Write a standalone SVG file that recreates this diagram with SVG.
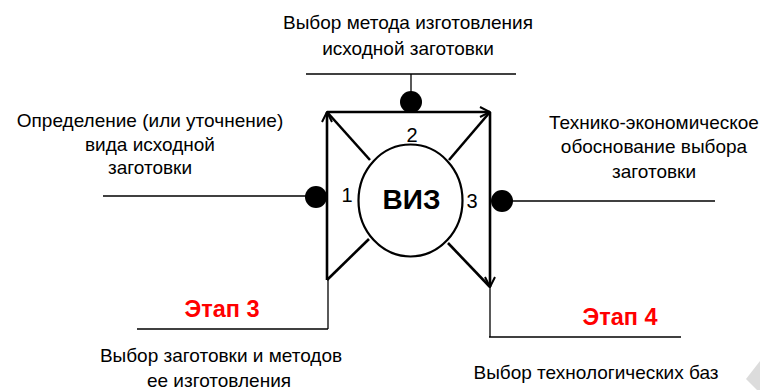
<svg xmlns="http://www.w3.org/2000/svg" width="760" height="390" viewBox="0 0 760 390">
<defs>
<style>
.t{font-family:"Liberation Sans",Arial,sans-serif;font-size:19px;fill:#000;text-anchor:middle}
.st{font-family:"Liberation Sans",Arial,sans-serif;font-size:23.5px;font-weight:bold;fill:#ff0000;text-anchor:middle}
.n{font-family:"Liberation Sans",Arial,sans-serif;font-size:20px;fill:#000;text-anchor:middle}
.thick{stroke:#000;stroke-width:2.6;fill:none}
.thin{stroke:#000;stroke-width:1.3;fill:none}
.dot{fill:#000}
</style>
<marker id="ah" viewBox="0 0 12 12" refX="11" refY="6" markerWidth="12" markerHeight="12" markerUnits="userSpaceOnUse" orient="auto">
<path d="M1,1 L11,6 L1,11" fill="none" stroke="#000" stroke-width="2"/>
</marker>
</defs>
<rect width="760" height="390" fill="#fff"/>
<g id="connectors">
<line class="thick" x1="327" y1="280" x2="327" y2="112" marker-end="url(#ah)"/>
<line class="thick" x1="327" y1="112" x2="490" y2="112" marker-end="url(#ah)"/>
<line class="thick" x1="490" y1="112" x2="490" y2="287" marker-end="url(#ah)"/>
<line class="thick" x1="327" y1="112" x2="370" y2="160"/>
<line class="thick" x1="490" y1="112" x2="449" y2="160"/>
<line class="thick" x1="327" y1="280" x2="369" y2="239"/>
<line class="thick" x1="448" y1="243" x2="490" y2="287"/>
<line class="thin" x1="306" y1="74" x2="516" y2="74"/>
<line class="thin" x1="411" y1="74" x2="411" y2="102" stroke="#555"/>
<line class="thin" x1="103" y1="196" x2="316" y2="196"/>
<line class="thin" x1="502" y1="201" x2="715" y2="201"/>
<line class="thin" x1="328" y1="280" x2="328" y2="329"/>
<line class="thin" x1="137" y1="329" x2="328" y2="329"/>
<line class="thin" x1="490" y1="287" x2="490" y2="337"/>
<line class="thin" x1="489" y1="337" x2="681" y2="337"/>
</g>
<g id="dots">
<circle class="dot" cx="411" cy="102" r="11"/>
<circle class="dot" cx="316" cy="197" r="11"/>
<circle class="dot" cx="502" cy="201" r="11"/>
</g>
<g id="viz">
<ellipse cx="410.5" cy="200.5" rx="52" ry="56" fill="#fff" stroke="#000" stroke-width="2.2"/>
<text x="411.5" y="209" style="font-family:'Liberation Sans',Arial,sans-serif;font-size:28px;font-weight:bold;text-anchor:middle">ВИЗ</text>
</g>
<g id="numbers">
<text class="n" x="347" y="202">1</text>
<text class="n" x="412" y="142">2</text>
<text class="n" x="472" y="208">3</text>
</g>
<g id="top-label">
<text class="t" x="408" y="29">Выбор метода изготовления</text>
<text class="t" x="408" y="55">исходной заготовки</text>
</g>
<g id="left-label">
<text class="t" x="150" y="127">Определение (или уточнение)</text>
<text class="t" x="150" y="151">вида исходной</text>
<text class="t" x="150" y="174">заготовки</text>
</g>
<g id="right-label">
<text class="t" x="654" y="129">Технико-экономическое</text>
<text class="t" x="654" y="153">обоснование выбора</text>
<text class="t" x="654" y="178">заготовки</text>
</g>
<g id="stage3">
<text class="st" x="222" y="317">Этап 3</text>
<text class="t" x="221" y="362">Выбор заготовки и методов</text>
<text class="t" x="219" y="387">ее изготовления</text>
</g>
<g id="stage4">
<text class="st" x="620" y="325">Этап 4</text>
<text class="t" x="596" y="379">Выбор технологических баз</text>
</g>
<polygon points="760,361 746,379 757,390 760,390" fill="#dcdcdc"/>
</svg>
